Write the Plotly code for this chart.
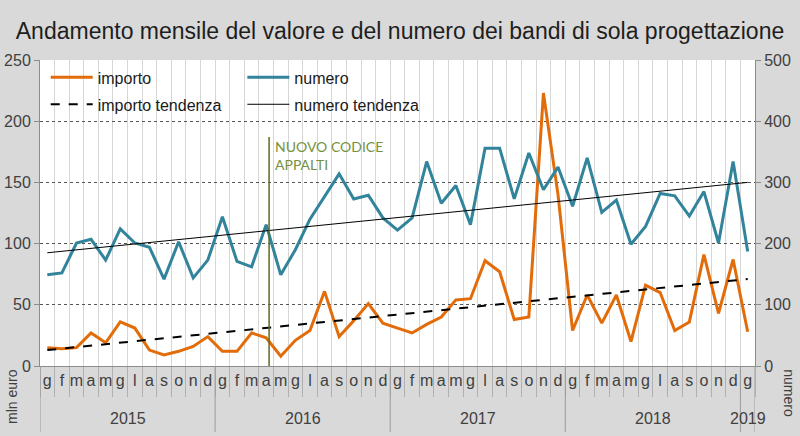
import plotly.graph_objects as go

months = ["g","f","m","a","m","g","l","a","s","o","n","d"] * 4 + ["g"]
years = ["2015", "2016", "2017", "2018", "2019"]
year_centers = [5.5, 17.5, 29.5, 41.5, 48]
year_bounds = [-0.5, 11.5, 23.5, 35.5, 47.5, 48.5]

importo = [15, 14, 15, 27, 19, 36, 31, 13, 9, 12, 16, 24,
           12, 12, 27, 23, 8, 21, 29, 61, 24, 37, 51, 35,
           31, 27, 34, 40, 54, 55, 86, 77, 38, 40, 223, 140,
           29, 58, 35, 58, 20, 66, 60, 29, 36, 91, 43, 87, 28]
numero = [149, 152, 201, 207, 173, 224, 201, 194, 142, 203, 144, 173,
          244, 171, 162, 231, 149, 190, 240, 277, 314, 273, 279, 242,
          222, 242, 334, 266, 295, 231, 356, 356, 273, 348, 288, 325,
          261, 340, 251, 271, 199, 228, 282, 278, 245, 285, 201, 334, 187]
trend_x = [0, 48]
importo_trend = [13, 71]
numero_trend = [185, 300]
codice_x = 15.2
codice_top = 187

x = list(range(len(importo)))
NARROW = "Liberation Sans Narrow, Arial Narrow, Liberation Sans, Arial, sans-serif"
ORANGE = "#E36C0A"
TEAL = "#31849B"

fig = go.Figure()
fig.add_trace(go.Scatter(x=x, y=importo, mode="lines", name="importo",
                         line=dict(color=ORANGE, width=3), legend="legend"))
fig.add_trace(go.Scatter(x=x, y=numero, mode="lines", name="numero", yaxis="y2",
                         line=dict(color=TEAL, width=3), legend="legend2"))
fig.add_trace(go.Scatter(x=trend_x, y=importo_trend, mode="lines", name="importo tendenza",
                         line=dict(color="black", width=2, dash="dash"), legend="legend3"))
fig.add_trace(go.Scatter(x=trend_x, y=numero_trend, mode="lines", name="numero tendenza", yaxis="y2",
                         line=dict(color="black", width=1), legend="legend4"))

legfont = dict(family=NARROW, size=16, color="#1a1a1a")
def leg(xp, yp):
    return dict(x=xp, y=yp, xanchor="left", yanchor="middle", bgcolor="rgba(0,0,0,0)",
                font=legfont, itemwidth=42, borderwidth=0)

shapes = [dict(type="line", xref="x", yref="y", x0=codice_x, x1=codice_x, y0=0, y1=codice_top,
               line=dict(color="#5E6B1E", width=1.5))]
for b in year_bounds:
    shapes.append(dict(type="line", xref="x", yref="paper", x0=b, x1=b, y0=0, y1=-0.215,
                       line=dict(color="#9a9a9a", width=1)))

annotations = [
    dict(x=codice_x + 0.25, y=codice_top + 1, xref="x", yref="y", xanchor="left", yanchor="top",
         text="NUOVO CODICE<br>APPALTI", showarrow=False, align="left",
         font=dict(family="Lato, Open Sans, sans-serif", size=14, color="#76923C")),
    dict(x=-0.04, y=-0.1, xref="paper", yref="paper", xanchor="center", yanchor="middle",
         text="mln euro", textangle=-90,
         showarrow=False, font=dict(family=NARROW, size=14, color="#404040")),
    dict(x=1.048, y=-0.09, xref="paper", yref="paper", xanchor="center", yanchor="middle",
         text="numero", textangle=90,
         showarrow=False, font=dict(family=NARROW, size=14, color="#404040")),
]
for yr, c in zip(years, year_centers):
    annotations.append(dict(x=c, y=-0.17, xref="x", yref="paper", text=yr, showarrow=False,
                            yanchor="middle", font=dict(family=NARROW, size=16, color="#404040")))

fig.update_layout(
    width=800, height=436,
    margin=dict(l=40, r=45, t=60, b=70, autoexpand=False),
    showlegend=True,
    paper_bgcolor="#D9D9D9", plot_bgcolor="white",
    title=dict(text="Andamento mensile del valore e del numero dei bandi di sola progettazione",
               x=0.5, xanchor="center", y=0.93, yanchor="middle",
               font=dict(family=NARROW, size=23, color="#1e1e1e")),
    xaxis=dict(range=[-0.5, 48.5], tickvals=x, ticktext=months, ticks="", showgrid=False,
               automargin=False,
               tickfont=dict(family=NARROW, size=16, color="#404040"),
               showline=True, linecolor="#8c8c8c", linewidth=1, zeroline=False,
               minor=dict(tickvals=[i - 0.5 for i in range(50)], showgrid=True,
                          gridcolor="#D6D6D6", gridwidth=1, ticks="outside", ticklen=30,
                          tickcolor="#b0b0b0")),
    yaxis=dict(range=[0, 250], dtick=50, showgrid=True, gridcolor="#555555", griddash="dot",
               gridwidth=1, ticks="outside", ticklen=5, tickcolor="#8c8c8c", automargin=False,
               showline=True, linecolor="#8c8c8c", zeroline=False,
               tickfont=dict(family=NARROW, size=16, color="#404040")),
    yaxis2=dict(range=[0, 500], dtick=100, overlaying="y", side="right", showgrid=False,
                ticks="outside", ticklen=5, tickcolor="#8c8c8c", automargin=False,
                showline=True, linecolor="#8c8c8c", zeroline=False,
                tickfont=dict(family=NARROW, size=16, color="#404040")),
    legend=leg(0.008, 0.943),
    legend2=leg(0.283, 0.943),
    legend3=leg(0.008, 0.855),
    legend4=leg(0.283, 0.855),
    shapes=shapes,
    annotations=annotations,
)

fig.write_html("out.html", config={"displayModeBar": False},
               post_script="document.body.style.margin='0px';document.body.style.overflow='hidden';")
